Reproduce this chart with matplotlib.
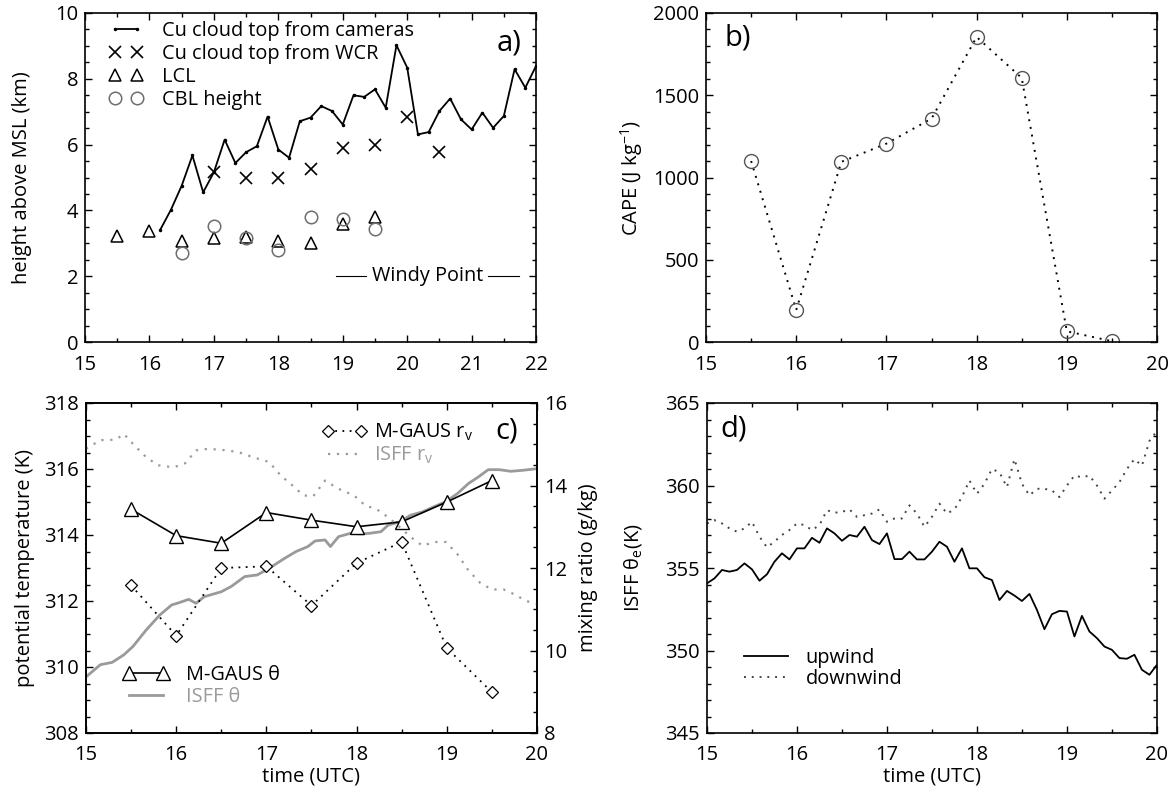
import numpy as np
import matplotlib
matplotlib.use('Agg')
import matplotlib.pyplot as plt
from matplotlib.ticker import MultipleLocator

plt.rcParams['font.family'] = ['Open Sans', 'DejaVu Sans']
plt.rcParams['mathtext.fontset'] = 'custom'
plt.rcParams['mathtext.rm'] = 'Open Sans'
plt.rcParams['mathtext.it'] = 'Open Sans:italic'

# --- a) cloud top, LCL and CBL heights (km MSL) ---
cam_time = np.linspace(16 + 1 / 6, 22, 36)   # 10-min camera retrievals
cam_top = [3.41, 4.02, 4.75, 5.67, 4.55, 5.16, 6.15, 5.44, 5.77, 5.95, 6.85, 5.85,
           5.6, 6.71, 6.82, 7.17, 7.02, 6.61, 7.5, 7.45, 7.68, 7.12, 9.02, 8.34,
           6.31, 6.38, 7.02, 7.4, 6.77, 6.46, 6.97, 6.51, 6.87, 8.29, 7.73, 8.39]
wcr_time = [17, 17.5, 18, 18.5, 19, 19.5, 20, 20.5]
wcr_top = [5.16, 5.0, 5.0, 5.26, 5.9, 5.98, 6.85, 5.78]
lcl_time = [15.5, 16, 16.5, 17, 17.5, 18, 18.5, 19, 19.5]
lcl = [3.22, 3.36, 3.07, 3.15, 3.2, 3.07, 3.02, 3.59, 3.81]
cbl_time = [16.5, 17, 17.5, 18, 18.5, 19, 19.5]
cbl = [2.7, 3.53, 3.15, 2.8, 3.81, 3.74, 3.43]

# --- b) sounding CAPE ---
snd_time = [15.5, 16, 16.5, 17, 17.5, 18, 18.5, 19, 19.5]
cape = [1100, 195, 1095, 1206, 1358, 1854, 1605, 65, 5]

# --- c) potential temperature and mixing ratio ---
mg_theta = [314.78, 313.98, 313.75, 314.68, 314.45, 314.25, 314.4, 315.0, 315.65]
mg_rv = [11.58, 10.36, 12.0, 12.04, 11.09, 12.12, 12.63, 10.06, 8.99]
isff_th_time = [15.0, 15.16, 15.29, 15.42, 15.52, 15.67, 15.82, 15.95, 16.01, 16.14,
                16.22, 16.31, 16.5, 16.61, 16.76, 16.9, 17.03, 17.2, 17.33, 17.46,
                17.54, 17.65, 17.71, 17.8, 17.93, 18.05, 18.14, 18.27, 18.35, 18.48,
                18.6, 18.73, 18.86, 18.99, 19.12, 19.24, 19.35, 19.46, 19.58, 19.71,
                19.84, 20.0]
isff_theta = [309.7, 310.07, 310.14, 310.37, 310.62, 311.13, 311.58, 311.88, 311.93,
              312.05, 311.93, 312.13, 312.28, 312.44, 312.74, 312.79, 312.99, 313.29,
              313.5, 313.65, 313.82, 313.85, 313.65, 313.95, 314.05, 314.03, 314.05,
              314.1, 314.3, 314.4, 314.6, 314.7, 314.86, 315.01, 315.26, 315.56,
              315.76, 315.98, 315.98, 315.93, 315.96, 316.01]
isff_rv_time = [15.0, 15.16, 15.33, 15.42, 15.52, 15.67, 15.8, 15.97, 16.1, 16.22,
                16.35, 16.52, 16.69, 16.86, 17.03, 17.16, 17.29, 17.41, 17.52, 17.65,
                17.8, 17.97, 18.1, 18.22, 18.35, 18.48, 18.6, 18.73, 18.86, 18.99,
                19.12, 19.24, 19.37, 19.5, 19.63, 19.75, 19.88, 20.0]
isff_rv = [14.89, 15.1, 15.11, 15.25, 15.01, 14.68, 14.49, 14.44, 14.54, 14.85,
           14.89, 14.86, 14.81, 14.68, 14.57, 14.24, 14.0, 13.76, 13.74, 14.12,
           13.92, 13.76, 13.51, 13.43, 13.23, 12.99, 12.75, 12.54, 12.63, 12.63,
           12.33, 11.94, 11.64, 11.48, 11.48, 11.36, 11.2, 11.13]

# --- d) ISFF equivalent potential temperature, 5-min ---
isff_time = np.linspace(15, 20, 61)
theta_e_up = [354.07, 354.37, 354.88, 354.78, 354.88, 355.28, 354.92, 354.23, 354.62,
              355.38, 355.89, 355.52, 356.19, 356.19, 356.83, 356.53, 357.4, 357.1,
              356.65, 357.0, 356.9, 357.5, 356.69, 356.45, 357.1, 355.54, 355.54,
              355.99, 355.52, 355.52, 355.99, 356.59, 356.29, 355.38, 356.19, 354.98,
              354.98, 354.44, 354.27, 353.06, 353.61, 353.33, 353.0, 353.43, 352.46,
              351.29, 352.2, 352.4, 352.36, 350.85, 352.1, 351.15, 350.75, 350.24,
              350.04, 349.54, 349.5, 349.74, 348.83, 348.53, 349.13]
theta_e_down = [357.7, 357.9, 357.7, 357.4, 357.2, 357.4, 357.8, 356.9, 356.25, 356.6,
                357.0, 357.3, 357.7, 357.6, 357.3, 357.6, 358.5, 358.35, 358.4, 358.55,
                358.1, 358.2, 358.3, 358.55, 357.8, 358.0, 358.0, 358.8, 358.3, 357.5,
                358.1, 358.9, 358.3, 358.55, 359.3, 360.3, 359.5, 360.1, 361.0, 360.8,
                359.9, 361.6, 360.1, 359.4, 359.8, 359.8, 359.7, 359.3, 360.0, 360.6,
                360.5, 360.6, 360.0, 359.2, 359.7, 360.2, 361.0, 361.6, 361.2, 362.7,
                363.3]

GRAY = '#9a9a9a'
DOT = (0, (1, 3))
FS = 14.5      # tick and axis labels
LFS = 14.3     # legend text


def style(ax, xmin, ymaj, ymin, right=True):
    ax.xaxis.set_major_locator(MultipleLocator(1))
    ax.xaxis.set_minor_locator(MultipleLocator(xmin))
    ax.yaxis.set_major_locator(MultipleLocator(ymaj))
    ax.yaxis.set_minor_locator(MultipleLocator(ymin))
    ax.tick_params(which='both', direction='in', top=True, right=right,
                   labelsize=FS, width=1)
    ax.tick_params(which='major', length=5, pad=5)
    ax.tick_params(which='minor', length=3)
    ax.tick_params(axis='x', which='major', pad=9)
    for s in ax.spines.values():
        s.set_linewidth(1.2)


fig = plt.figure(figsize=(11.73, 8), dpi=100)
ax_a = fig.add_axes([0.0725, 0.5725, 0.3845, 0.41125])
ax_b = fig.add_axes([0.6019, 0.5725, 0.3845, 0.41125])
ax_c = fig.add_axes([0.0733, 0.08375, 0.3845, 0.4125])
ax_d = fig.add_axes([0.6027, 0.08375, 0.3836, 0.4125])

# a)
ax_a.plot(cam_time, cam_top, '-', color='k', lw=1.3, marker='.', ms=3,
          label='Cu cloud top from cameras')
ax_a.plot(wcr_time, wcr_top, 'x', color='k', ms=9, mew=1.2, ls='none',
          label='Cu cloud top from WCR')
ax_a.plot(lcl_time, lcl, '^', mfc='none', mec='k', ms=9, mew=1.1, ls='none', label='LCL')
ax_a.plot(cbl_time, cbl, 'o', mfc='none', mec='#6e6e6e', ms=9, mew=1.1, ls='none',
          label='CBL height')
ax_a.set_xlim(15, 22)
ax_a.set_ylim(0, 10)
style(ax_a, 0.5, 2, 0.5)
ax_a.set_ylabel('height above MSL (km)', fontsize=FS)
ax_a.yaxis.set_label_coords(-0.118, 0.5)
ax_a.legend(loc='upper left', bbox_to_anchor=(0.03, 1.01), frameon=False, numpoints=2,
            fontsize=LFS, handlelength=1.7, handletextpad=0.95, labelspacing=0.15,
            borderaxespad=0.15)
ax_a.text(0.94, 0.91, 'a)', transform=ax_a.transAxes, fontsize=21, ha='center', va='center')
ax_a.text(0.76, 0.2, 'Windy Point', transform=ax_a.transAxes, fontsize=LFS,
          ha='center', va='center')
ax_a.plot([0.557, 0.624], [0.2, 0.2], transform=ax_a.transAxes, color='k', lw=0.8)
ax_a.plot([0.894, 0.963], [0.2, 0.2], transform=ax_a.transAxes, color='k', lw=0.8)

# b)
ax_b.plot(snd_time, cape, color='k', ls=DOT, lw=1.4, marker='o', mfc='none',
          mec='#555555', ms=10, mew=1.0)
ax_b.set_xlim(15, 20)
ax_b.set_ylim(0, 2000)
style(ax_b, 0.5, 500, 100)
ax_b.set_ylabel('CAPE (J kg$^{-1}$)', fontsize=FS)
ax_b.yaxis.set_label_coords(-0.135, 0.5)
ax_b.text(0.07, 0.925, 'b)', transform=ax_b.transAxes, fontsize=21, ha='center', va='center')

# c)
ax_r = ax_c.twinx()
l1, = ax_c.plot(snd_time, mg_theta, '-', color='k', lw=1.2, marker='^', mfc='white',
                mec='k', ms=10, mew=1.0, label='M-GAUS θ', zorder=3)
l2, = ax_c.plot(isff_th_time, isff_theta, '-', color=GRAY, lw=2.0, label='ISFF θ',
                zorder=2)
l3, = ax_r.plot(snd_time, mg_rv, color='k', ls=DOT, lw=1.3, marker='D', mfc='white',
                mec='k', ms=6, mew=0.9, label=r'M-GAUS r$_{\rm v}$')
l4, = ax_r.plot(isff_rv_time, isff_rv, color=GRAY, ls=DOT, lw=1.6, label=r'ISFF r$_{\rm v}$')
ax_c.set_xlim(15, 20)
ax_c.set_ylim(308, 318)
ax_r.set_ylim(8, 16)
style(ax_c, 0.5, 2, 0.5, right=False)
ax_r.yaxis.set_major_locator(MultipleLocator(2))
ax_r.yaxis.set_minor_locator(MultipleLocator(0.5))
ax_r.tick_params(which='both', direction='in', labelsize=FS, width=1)
ax_r.tick_params(which='major', length=5, pad=5)
ax_r.tick_params(which='minor', length=3)
for s in ax_r.spines.values():
    s.set_linewidth(1.2)
ax_c.set_ylabel('potential temperature (K)', fontsize=FS)
ax_c.yaxis.set_label_coords(-0.113, 0.5)
ax_r.set_ylabel('mixing ratio (g/kg)', fontsize=FS, labelpad=8)
ax_c.set_xlabel('time (UTC)', fontsize=FS, labelpad=1)
leg_c1 = ax_r.legend(handles=[l1, l2], loc='lower left', bbox_to_anchor=(0.065, 0.055),
                     frameon=False, numpoints=2, fontsize=LFS, handlelength=2.3,
                     handletextpad=0.85, labelspacing=0.1, borderaxespad=0)
leg_c1.get_texts()[1].set_color(GRAY)
ax_r.add_artist(leg_c1)
leg_c2 = ax_r.legend(handles=[l3, l4], loc='upper left', bbox_to_anchor=(0.505, 0.968),
                     frameon=False, numpoints=2, fontsize=LFS, handlelength=2.3,
                     handletextpad=0.35, labelspacing=0.1, borderaxespad=0)
leg_c2.get_texts()[1].set_color(GRAY)
ax_r.text(0.933, 0.915, 'c)', transform=ax_r.transAxes, fontsize=21, ha='center', va='center')

# d)
ax_d.plot(isff_time, theta_e_up, '-', color='k', lw=1.3, label='upwind')
ax_d.plot(isff_time, theta_e_down, color='#444444', ls=DOT, lw=1.4, label='downwind')
ax_d.set_xlim(15, 20)
ax_d.set_ylim(345, 365)
style(ax_d, 0.5, 5, 1)
ax_d.set_ylabel('ISFF θ$_{\\rm e}$(K)', fontsize=FS)
ax_d.yaxis.set_label_coords(-0.14, 0.5)
ax_d.set_xlabel('time (UTC)', fontsize=FS, labelpad=1)
ax_d.legend(loc='lower left', bbox_to_anchor=(0.065, 0.11), frameon=False, fontsize=LFS,
            handlelength=2.2, handletextpad=0.9, labelspacing=0.05, borderaxespad=0)
ax_d.text(0.06, 0.92, 'd)', transform=ax_d.transAxes, fontsize=21, ha='center', va='center')

fig.savefig('out.png', dpi=100)
